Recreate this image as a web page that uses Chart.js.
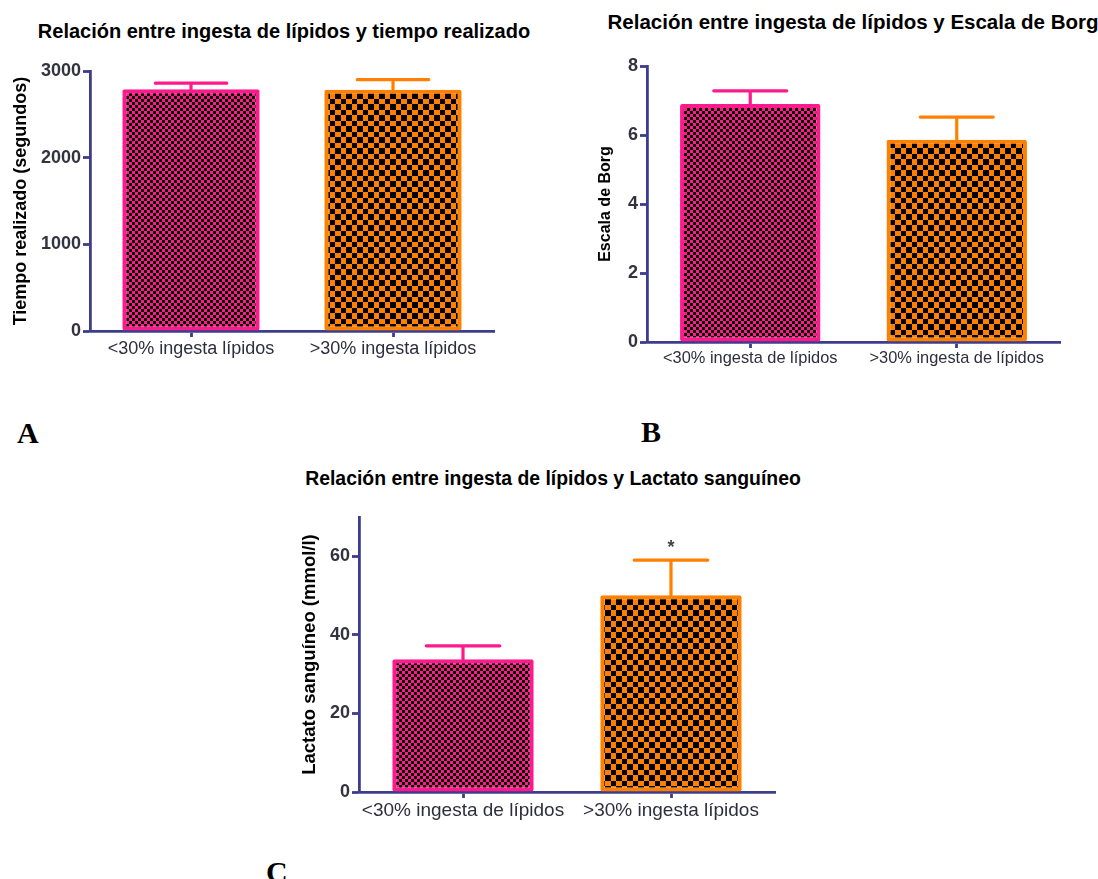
<!DOCTYPE html>
<html><head><meta charset="utf-8">
<script src="https://cdn.jsdelivr.net/npm/chart.js@4.4.1/dist/chart.umd.min.js"></script>
<style>
html,body{margin:0;padding:0;background:#fff;}
body{width:1098px;height:879px;overflow:hidden;position:relative;font-family:"Liberation Sans",Arial,sans-serif;}
.box{position:absolute;}
.title{position:absolute;font-weight:bold;font-size:20px;line-height:20px;color:#000;white-space:nowrap;transform:translateX(-50%);}
.letter{position:absolute;font-family:"Liberation Serif","Times New Roman",serif;font-weight:bold;font-size:30px;line-height:30px;color:#000;}
</style></head><body>
<div class="title" style="left:284px;top:21px">Relación entre ingesta de lípidos y tiempo realizado</div>
<div class="title" style="left:853px;top:12px;font-size:20.5px">Relación entre ingesta de lípidos y Escala de Borg</div>
<div class="title" style="left:553px;top:468px;font-size:19.4px">Relación entre ingesta de lípidos y Lactato sanguíneo</div>
<div class="letter" style="left:17px;top:418px">A</div>
<div class="letter" style="left:641px;top:417px">B</div>
<div class="letter" style="left:266px;top:857px">C</div>
<div class="box" style="left:0px;top:0px;width:549px;height:440px"><canvas id="cA"></canvas></div>
<div class="box" style="left:549px;top:0px;width:549px;height:440px"><canvas id="cB"></canvas></div>
<div class="box" style="left:270px;top:440px;width:549px;height:439px"><canvas id="cC"></canvas></div>
<script>
// ---- Data ----
const categoriesA = ['<30% ingesta lípidos', '>30% ingesta lípidos'];
const meansA = [2790, 2785];
const errorsA = [70, 115];
const yTicksA = [0, 1000, 2000, 3000];

const categoriesB = ['<30% ingesta de lípidos', '>30% ingesta de lípidos'];
const meansB = [6.9, 5.86];
const errorsB = [0.38, 0.66];
const yTicksB = [0, 2, 4, 6, 8];

const categoriesC = ['<30% ingesta de lípidos', '>30% ingesta lípidos'];
const meansC = [33.8, 50.1];
const errorsC = [3.4, 8.9];
const yTicksC = [0, 20, 40, 60];
const starsC = ['', '*'];

// ---- Styles ----
const NAVY = '#3d3d8c';
const PINK = '#ff1a8c';
const ORANGE = '#ff8000';
const FONT = '"Liberation Sans", Arial, sans-serif';

function checker(bg, fg, a, b) {
  const t = document.createElement('canvas');
  const n = a + b;
  t.width = n; t.height = n;
  const g = t.getContext('2d');
  g.fillStyle = bg; g.fillRect(0, 0, n, n);
  g.fillStyle = fg; g.fillRect(0, 0, a, a); g.fillRect(a, a, b, b);
  return document.createElement('canvas').getContext('2d').createPattern(t, 'repeat');
}
const pinkPat = checker(PINK, '#000', 3, 3);
const orangePat = checker(ORANGE, '#000', 5, 6);

const errorBarPlugin = {
  id: 'errbars',
  afterDatasetsDraw(chart, args, opts) {
    const ctx = chart.ctx;
    const meta = chart.getDatasetMeta(0);
    const ys = chart.scales.y;
    const ds = chart.data.datasets[0];
    meta.data.forEach((bar, i) => {
      const base = ys.getPixelForValue(ds.data[i]);
      const top = ys.getPixelForValue(ds.data[i] + opts.errors[i]);
      const half = bar.width * 0.26;
      ctx.save();
      ctx.strokeStyle = opts.colors[i];
      ctx.lineWidth = 3.2;
      ctx.lineCap = 'round';
      ctx.beginPath();
      ctx.moveTo(bar.x, base); ctx.lineTo(bar.x, top);
      ctx.moveTo(bar.x - half, top); ctx.lineTo(bar.x + half, top);
      ctx.stroke();
      if (opts.stars && opts.stars[i]) {
        ctx.fillStyle = '#444';
        ctx.font = 'bold 18px ' + FONT;
        ctx.textAlign = 'center';
        ctx.textBaseline = 'alphabetic';
        ctx.fillText(opts.stars[i], bar.x, top - 7);
      }
      ctx.restore();
    });
  }
};

function makeChart(id, cfg) {
  const W = cfg.W, H = cfg.H, a = cfg.area;
  return new Chart(document.getElementById(id), {
    type: 'bar',
    data: {
      labels: cfg.labels,
      datasets: [{
        data: cfg.means,
        backgroundColor: [pinkPat, orangePat],
        borderColor: [PINK, ORANGE],
        borderWidth: 4,
        borderSkipped: false,
        borderRadius: 2,
        barPercentage: 0.68,
        categoryPercentage: 1.0
      }]
    },
    options: {
      responsive: true,
      maintainAspectRatio: false,
      animation: false,
      events: [],
      layout: { padding: { left: 0, top: a.top, right: W - a.right, bottom: 0 } },
      plugins: {
        legend: { display: false },
        tooltip: { enabled: false },
        errbars: { errors: cfg.errors, colors: [PINK, ORANGE], stars: cfg.stars }
      },
      scales: {
        x: {
          z: 1,
          grid: { offset: false, drawOnChartArea: false, drawTicks: true, tickLength: 6, tickWidth: 2.8, tickColor: NAVY },
          border: { display: true, color: NAVY, width: 2.8 },
          ticks: { color: '#2e2e3e', padding: 1, maxRotation: 0, minRotation: 0, autoSkip: false,
                   font: { family: FONT, size: cfg.xFont } },
          afterFit(s) { s.height = H - a.bottom; }
        },
        y: {
          min: 0, max: cfg.yMax,
          afterBuildTicks(s) { s.ticks = cfg.yTicks.map(v => ({ value: v })); },
          grid: { drawOnChartArea: false, drawTicks: true, tickLength: 7, tickWidth: 2.8, tickColor: NAVY },
          border: { display: true, color: NAVY, width: 2.8 },
          ticks: { color: '#333340', padding: 2, callback: v => String(v),
                   font: { family: FONT, size: cfg.yFont, weight: 'bold' } },
          title: { display: true, text: cfg.yTitle, color: '#000', padding: { top: cfg.titlePad, bottom: 0 },
                   font: { family: FONT, size: cfg.yTitleFont, weight: 'bold' } },
          afterFit(s) { s.width = a.left; }
        }
      }
    },
    plugins: [errorBarPlugin]
  });
}

makeChart('cA', { W: 549, H: 440, area: { left: 90, right: 494, top: 71, bottom: 331 },
  labels: categoriesA, means: meansA, errors: errorsA, yMax: 3000, yTicks: yTicksA,
  yTitle: 'Tiempo realizado (segundos)', xFont: 18, yFont: 18, yTitleFont: 18, titlePad: 10 });

makeChart('cB', { W: 549, H: 440, area: { left: 98, right: 511, top: 66, bottom: 342 },
  labels: categoriesB, means: meansB, errors: errorsB, yMax: 8, yTicks: yTicksB,
  yTitle: 'Escala de Borg', xFont: 16.4, yFont: 18, yTitleFont: 16, titlePad: 47 });

makeChart('cC', { W: 549, H: 439, area: { left: 89, right: 505, top: 77, bottom: 352 },
  labels: categoriesC, means: meansC, errors: errorsC, yMax: 70, yTicks: yTicksC, stars: starsC,
  yTitle: 'Lactato sanguíneo (mmol/l)', xFont: 19, yFont: 18, yTitleFont: 18.5, titlePad: 29 });
</script>
</body></html>
